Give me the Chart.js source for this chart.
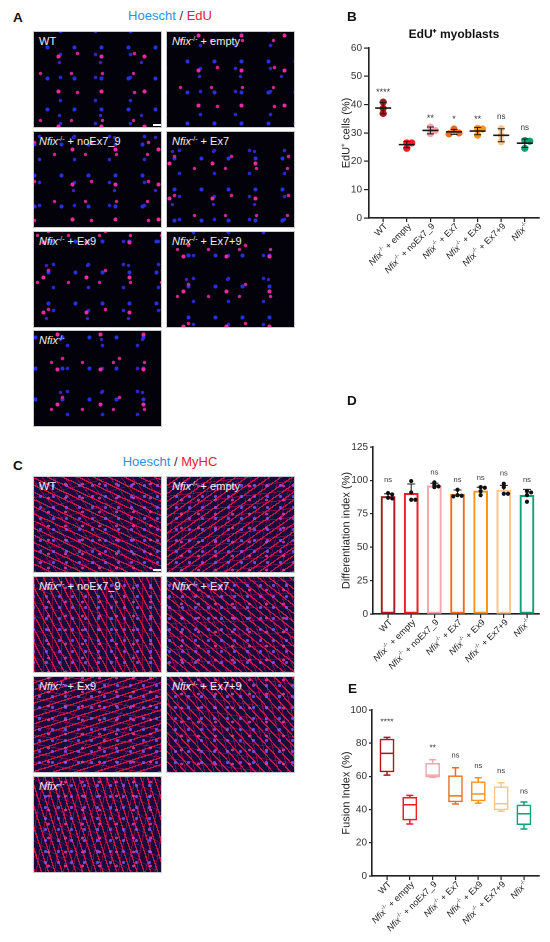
<!DOCTYPE html>
<html><head><meta charset="utf-8">
<script src="https://cdn.jsdelivr.net/npm/chart.js@4.4.1/dist/chart.umd.min.js"></script>
<style>
html,body{margin:0;padding:0;background:#fff;}
body{width:550px;height:942px;position:relative;overflow:hidden;font-family:'Liberation Sans',Arial,Helvetica,sans-serif;}
.lbl{position:absolute;font-weight:bold;font-size:13.5px;color:#111;line-height:1;z-index:3;}
.ttl{position:absolute;font-size:13px;color:#333;width:200px;text-align:center;line-height:1;}
.img{position:absolute;width:129px;height:97px;box-sizing:border-box;border:1px solid #c9c9c9;overflow:hidden;}
.img span{position:absolute;left:5px;top:4px;color:#eeeeee;font-size:11px;font-weight:normal;white-space:nowrap;line-height:1;}
.img sup{font-size:7px;vertical-align:4px;line-height:0;}
.bar{position:absolute;left:119px;top:92px;width:8px;height:2px;background:#fff;}
.cv{position:absolute;}
</style>
</head><body>
<div class="lbl" style="left:13px;top:11px">A</div>
<div class="ttl" style="left:70px;top:9px"><span style="color:#2f8fe0">Hoescht</span> / <span style="color:#e8203a">EdU</span></div>
<div class="lbl" style="left:13px;top:459px">C</div>
<div class="ttl" style="left:70px;top:455px"><span style="color:#2f8fe0">Hoescht</span> / <span style="color:#e8203a">MyHC</span></div>
<div class="lbl" style="left:347px;top:10px">B</div>
<div class="lbl" style="left:347px;top:394px">D</div>
<div class="lbl" style="left:348px;top:682px">E</div>
<div id="panels"></div>
<canvas id="cB" class="cv" width="210" height="320" style="left:340px;top:0px;width:210px;height:320px"></canvas>
<canvas id="cD" class="cv" width="210" height="320" style="left:340px;top:380px;width:210px;height:320px"></canvas>
<canvas id="cE" class="cv" width="210" height="242" style="left:340px;top:700px;width:210px;height:242px"></canvas>
<script>
// ---------- data ----------
const categories = ['WT','Nfix-/- + empty','Nfix-/- + noEx7_9','Nfix-/- + Ex7','Nfix-/- + Ex9','Nfix-/- + Ex7+9','Nfix-/-'];
const groupColors = ['#a8191f','#ee1c25','#f6a5ad','#f36b21','#f7941d','#fcc58c','#12a077'];

// B: EdU+ myoblasts (%), replicates, mean, SD
const eduReplicates = [[40.9,38.7,36.9],[26.5,26.5,24.6],[32.1,30.9,29.8],[31.4,30.0,29.7],[31.6,31.4,29.2],[31.5,29.2,26.9],[27.3,27.1,24.6]];
const eduMean = [38.8,25.9,30.9,30.4,30.7,29.2,26.4];
const eduSD = [2.0,1.1,1.2,0.9,1.3,2.3,1.5];
const eduSig = ['****','','**','*','**','ns','ns'];
const eduSigY = [45.2,null,36.0,35.6,35.6,35.8,31.9];

// D: differentiation index (%)
const diffReplicates = [[90.5,89.5,87,86.5],[99.5,91,85.5,85.5],[98.5,96.5,95.5,95],[93,89,88.5,88],[95,94.5,92,89],[97.5,95,90,90],[92,91,89,84]];
const diffMean = [88.0,90.3,95.9,89.6,92.1,92.8,88.8];
const diffSD = [2.0,7.0,2.0,3.2,2.8,3.5,4.5];
const diffSig = ['ns','','ns','ns','ns','ns','ns'];
const diffSigY = [100.3,null,106,100.3,102,105.3,100.3];

// E: fusion index (%) box plots
const fusionMin = [60.8,31.3,59.4,43.4,43.9,39.0,28.3];
const fusionQ1 = [62.7,33.7,59.6,44.6,45.2,39.8,30.9];
const fusionMedian = [73.9,42.9,60.8,48.3,49.4,43.5,37.5];
const fusionQ3 = [82.5,47.4,67.9,60.4,56.8,53.8,42.8];
const fusionMax = [83.5,48.6,70.0,65.2,59.2,56.2,44.6];
const fusionSig = ['****','','**','ns','ns','ns','ns'];
const fusionSigY = [94,null,78.4,72.6,66.4,63.4,51];

// ---------- helpers ----------
const FAM = "'Liberation Sans', Arial, Helvetica, sans-serif";
Chart.defaults.font.family = FAM;
function parts(str){ const m = str.match(/^Nfix-\/-(.*)$/); return m ? [{t:'Nfix',it:1},{t:'-/-',sup:1},{t:m[1]}] : [{t:str}]; }
function richHTML(str){ return parts(str).map(p=>p.it?'<i>'+p.t+'</i>':p.sup?'<sup>'+p.t+'</sup>':p.t).join(''); }

// micrograph stand-in panels (decorative layout only)
(function(){
  const cols=[33,166], rowsA=[31,131,231,330], rowsC=[476,576,676,776];
  const fiberAngles=[25,-35,62,38,-18,48,72];
  const host=document.getElementById('panels');
  function eduBg(i){
    const s=i*7;
    const dot=(c,r,x,y,w,h)=>`radial-gradient(circle, ${c} 0 ${r}px, rgba(0,0,0,0) ${r+1}px) ${(x+s)%w}px ${(y+s*2)%h}px/${w}px ${h}px`;
    return [
      dot('#f22aa0',1.5,3,7,43,35), dot('#d0228f',1.3,15,2,57,39), dot('#c82a90',1.2,22,18,31,47),
      dot('#2630e8',1.5,0,0,27,31), dot('#2a26d0',1.3,9,11,35,23), dot('#3e22c0',1.2,5,4,41,53),
      '#03020b'].join(',');
  }
  function myhcBg(i){
    const a=fiberAngles[i];
    return [
      `radial-gradient(circle, rgba(130,90,255,.8) 0 1.2px, rgba(0,0,0,0) 1.9px) ${i*3}px 3px/13px 11px`,
      `radial-gradient(circle, rgba(255,70,170,.7) 0 1.1px, rgba(0,0,0,0) 1.8px) 6px ${i*2}px/17px 14px`,
      `repeating-linear-gradient(${a}deg, rgba(235,25,70,.8) 0 1.3px, rgba(0,0,0,0) 1.3px 6.5px)`,
      `repeating-linear-gradient(${a+28}deg, rgba(225,20,85,.45) 0 1px, rgba(0,0,0,0) 1px 9px)`,
      `repeating-linear-gradient(${a-40}deg, rgba(200,30,110,.3) 0 1px, rgba(0,0,0,0) 1px 13px)`,
      '#1c0a3c'].join(',');
  }
  [[eduBg,rowsA],[myhcBg,rowsC]].forEach(([bg,rows])=>{
    categories.forEach((c,i)=>{
      const d=document.createElement('div');
      d.className='img';
      d.style.left=cols[i%2]+'px'; d.style.top=rows[Math.floor(i/2)]+'px';
      d.style.background=bg(i);
      d.innerHTML='<span>'+richHTML(c)+'</span>'+(i===0?'<div class="bar"></div>':'');
      host.appendChild(d);
    });
  });
})();

function swarm(vals, dx, dyT){
  const order = vals.map((v,i)=>i).sort((a,b)=>vals[b]-vals[a]);
  const placed=[], offs=new Array(vals.length).fill(0);
  const cands=[0,dx,-dx,2*dx,-2*dx];
  for(const i of order){
    for(const c of cands){
      if(!placed.some(p=>Math.abs(p.o-c)<dx*0.9 && Math.abs(p.v-vals[i])<dyT)){ offs[i]=c; placed.push({o:c,v:vals[i]}); break; }
    }
  }
  return offs;
}

const richTicks = {
  id:'richTicks',
  afterDraw(chart, args, o){
    if(!o.labels) return;
    const ctx=chart.ctx, xs=chart.scales.x, bottom=chart.chartArea.bottom;
    ctx.save(); ctx.fillStyle=o.color||'#222';
    o.labels.forEach((lab,i)=>{
      const ps=parts(lab);
      const fontOf=p=>(p.it?'italic ':'')+(p.sup?o.size*0.62:o.size)+'px '+FAM;
      let w=0; ps.forEach(p=>{ctx.font=fontOf(p); p.w=ctx.measureText(p.t).width; w+=p.w;});
      ctx.save();
      ctx.translate(xs.getPixelForValue(i)+o.dx, bottom+o.dy);
      ctx.rotate(-Math.PI/4);
      ctx.textBaseline='middle'; ctx.textAlign='left';
      let x=-w;
      ps.forEach(p=>{ctx.font=fontOf(p); ctx.fillText(p.t,x,p.sup?-o.size*0.38:0); x+=p.w;});
      ctx.restore();
    });
    ctx.restore();
  }
};
const sigMarks = {
  id:'sigMarks',
  afterDatasetsDraw(chart,args,o){
    if(!o.labels) return;
    const ctx=chart.ctx, xs=chart.scales.x, ys=chart.scales.y;
    ctx.save(); ctx.fillStyle='#333'; ctx.textAlign='center'; ctx.textBaseline='middle';
    o.labels.forEach((s,i)=>{
      if(!s) return;
      const star=s.includes('*');
      ctx.font=(star?o.size+1:o.size)+'px '+FAM;
      ctx.fillText(s, xs.getPixelForValue(i), ys.getPixelForValue(o.y[i])+(star?o.size*0.3:0));
    });
    ctx.restore();
  }
};
const meanSd = {
  id:'meanSd',
  afterDatasetsDraw(chart,args,o){
    if(!o.mean) return;
    const ctx=chart.ctx, xs=chart.scales.x, ys=chart.scales.y;
    ctx.save(); ctx.strokeStyle='#1a1a1a';
    o.mean.forEach((m,i)=>{
      const x=xs.getPixelForValue(i), ym=ys.getPixelForValue(m);
      const yt=ys.getPixelForValue(m+o.sd[i]), yb=ys.getPixelForValue(m-o.sd[i]);
      ctx.lineWidth=1;
      ctx.beginPath(); ctx.moveTo(x,yt); ctx.lineTo(x,yb);
      ctx.moveTo(x-3.5,yt); ctx.lineTo(x+3.5,yt); ctx.moveTo(x-3.5,yb); ctx.lineTo(x+3.5,yb); ctx.stroke();
      ctx.lineWidth=1.6;
      ctx.beginPath(); ctx.moveTo(x-8,ym); ctx.lineTo(x+8,ym); ctx.stroke();
    });
    ctx.restore();
  }
};
const barExtras = {
  id:'barExtras',
  afterDatasetDraw(chart,args,o){
    if(args.meta.type!=='bar') return;
    const ctx=chart.ctx, xs=chart.scales.x, ys=chart.scales.y;
    ctx.save();
    if(o.errMean){
      ctx.strokeStyle='#1a1a1a'; ctx.lineWidth=1;
      o.errMean.forEach((m,i)=>{
        const x=xs.getPixelForValue(i), y0=ys.getPixelForValue(m), y1=ys.getPixelForValue(m+o.errSd[i]);
        ctx.beginPath(); ctx.moveTo(x,y0); ctx.lineTo(x,y1); ctx.moveTo(x-4,y1); ctx.lineTo(x+4,y1); ctx.stroke();
      });
    }
    if(o.med){
      ctx.lineWidth=1.5;
      o.med.forEach((m,i)=>{
        const x=xs.getPixelForValue(i), c=o.colors[i];
        ctx.strokeStyle=c;
        const h=o.half;
        const yMed=ys.getPixelForValue(m), yMin=ys.getPixelForValue(o.min[i]), yMax=ys.getPixelForValue(o.max[i]);
        const yQ1=ys.getPixelForValue(o.q1[i]), yQ3=ys.getPixelForValue(o.q3[i]);
        ctx.beginPath();
        ctx.moveTo(x-h,yMed); ctx.lineTo(x+h,yMed);
        ctx.moveTo(x,yQ3); ctx.lineTo(x,yMax); ctx.moveTo(x-3.5,yMax); ctx.lineTo(x+3.5,yMax);
        ctx.moveTo(x,yQ1); ctx.lineTo(x,yMin); ctx.moveTo(x-3.5,yMin); ctx.lineTo(x+3.5,yMin);
        ctx.stroke();
      });
    }
    ctx.restore();
  }
};
Chart.register(richTicks, sigMarks, meanSd, barExtras);

function axisX(min,max,h){
  return {type:'linear', min, max, offset:false,
    afterBuildTicks:s=>{ s.ticks=categories.map((c,i)=>({value:i})); },
    ticks:{display:false},
    grid:{drawOnChartArea:false, drawTicks:true, tickLength:4, color:'#222', lineWidth:1.2, offset:false},
    border:{display:true, color:'#222', width:1.6},
    afterFit:s=>{ s.height=h; }};
}
function axisY(min,max,step,w,title,tl){
  return {type:'linear', min, max,
    ticks:{stepSize:step, font:{size:10}, color:'#333', padding:2},
    grid:{drawOnChartArea:false, drawTicks:true, tickLength:tl, color:'#222', lineWidth:1.2},
    border:{display:true, color:'#222', width:1.6},
    title:{display:true, text:title, font:{size:11}, color:'#222', padding:0},
    afterFit:s=>{ s.width=w; }};
}
const baseOpts = {responsive:false, animation:false, events:[], devicePixelRatio:2};

// ---------- B ----------
new Chart(document.getElementById('cB'), {
  type:'scatter',
  data:{datasets: categories.map((c,i)=>{
    const off=swarm(eduReplicates[i],0.21,1.7);
    return {label:c, data:eduReplicates[i].map((v,k)=>({x:i+off[k], y:v})),
      backgroundColor:groupColors[i], borderColor:groupColors[i], borderWidth:0, pointRadius:3.6, pointHoverRadius:3.6};
  })},
  options:Object.assign({}, baseOpts, {
    layout:{padding:{top:0,right:11,left:0,bottom:0}},
    plugins:{legend:{display:false}, tooltip:{enabled:false},
      title:{display:true, text:'EdU⁺ myoblasts', fullSize:false, color:'#111', font:{size:12, weight:'bold'}, padding:{top:27.6,bottom:6}},
      richTicks:{labels:categories, size:9, dx:3, dy:7, color:'#222'},
      sigMarks:{labels:eduSig, y:eduSigY, size:8},
      meanSd:{mean:eduMean, sd:eduSD}},
    scales:{x:axisX(-0.6,6.6,102), y:axisY(0,60,10,29,'EdU⁺ cells (%)',5)}
  })
});

// ---------- D ----------
new Chart(document.getElementById('cD'), {
  type:'bar',
  data:{datasets:[
    {type:'scatter', label:'replicates', order:0,
      data: diffReplicates.flatMap((arr,i)=>{ const off=swarm(arr,0.18,1.5); return arr.map((v,k)=>({x:i+off[k], y:v})); }),
      backgroundColor:'#111', borderColor:'#111', borderWidth:0, pointRadius:2.1, pointHoverRadius:2.1},
    {type:'bar', label:'mean', order:1,
      data: diffMean.map((v,i)=>({x:i, y:v})),
      backgroundColor:'#fff', borderColor:groupColors, borderWidth:2, borderSkipped:false, barThickness:14, grouped:false}
  ]},
  options:Object.assign({}, baseOpts, {
    layout:{padding:{top:67,right:11,left:0,bottom:0}},
    plugins:{legend:{display:false}, tooltip:{enabled:false},
      richTicks:{labels:categories, size:9, dx:3, dy:7, color:'#222'},
      sigMarks:{labels:diffSig, y:diffSigY, size:7.5},
      barExtras:{errMean:diffMean, errSd:diffSD}},
    scales:{x:axisX(-0.65,6.52,86), y:axisY(0,125,25,33,'Differentiation index (%)',3)}
  })
});

// ---------- E ----------
new Chart(document.getElementById('cE'), {
  type:'bar',
  data:{datasets:[
    {label:'IQR', data: fusionQ1.map((q,i)=>({x:i, y:[q, fusionQ3[i]]})),
      backgroundColor:'#fff', borderColor:groupColors, borderWidth:1.5, borderSkipped:false, barThickness:14}
  ]},
  options:Object.assign({}, baseOpts, {
    layout:{padding:{top:10,right:11,left:0,bottom:0}},
    plugins:{legend:{display:false}, tooltip:{enabled:false},
      richTicks:{labels:categories, size:9, dx:3, dy:7, color:'#222'},
      sigMarks:{labels:fusionSig, y:fusionSigY, size:7.5},
      barExtras:{med:fusionMedian, min:fusionMin, max:fusionMax, q1:fusionQ1, q3:fusionQ3, colors:groupColors, half:7}},
    scales:{x:axisX(-0.657,6.66,66), y:axisY(0,100,20,32,'Fusion Index (%)',3)}
  })
});
</script>
</body></html>
